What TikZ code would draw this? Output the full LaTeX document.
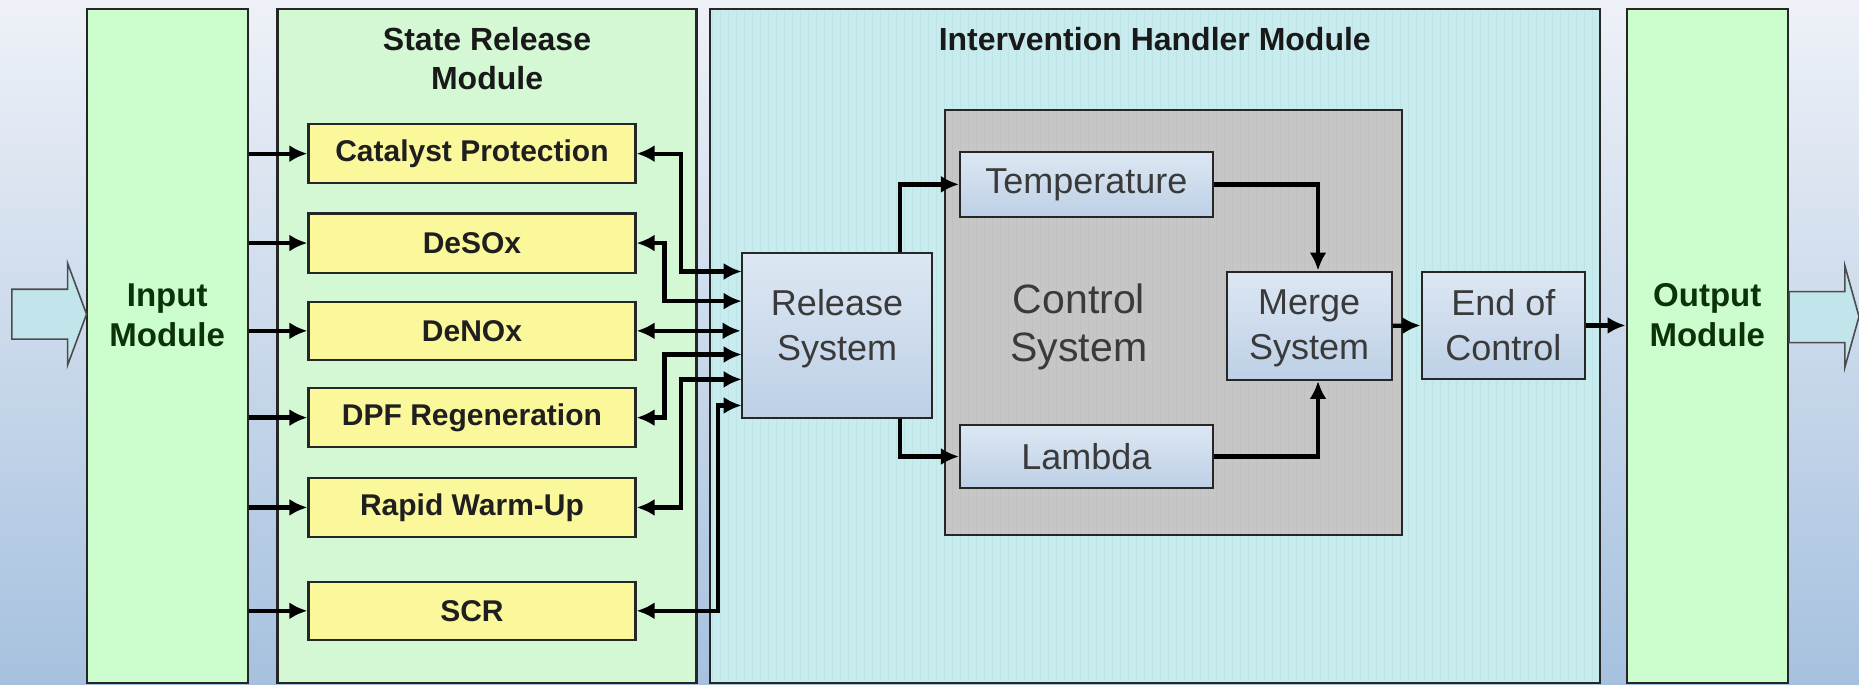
\documentclass[tikz,border=0pt]{standalone}
\usepackage{fontspec}
\setmainfont{Liberation Sans}
\usetikzlibrary{arrows.meta,fit,calc}
\definecolor{bgtop}{HTML}{EEF1F7}
\definecolor{bgbot}{HTML}{A6C1DF}
\definecolor{grn}{HTML}{CCFDCC}
\definecolor{grnpale}{HTML}{D3F8D3}
\definecolor{cyanbg}{HTML}{C8ECEE}
\definecolor{cyangrid}{HTML}{BFE4E7}
\definecolor{graybg}{HTML}{C6C6C6}
\definecolor{graygrid}{HTML}{C0C0C0}
\definecolor{ylw}{HTML}{FBF89C}
\definecolor{bluetop}{HTML}{DDE7F3}
\definecolor{bluebot}{HTML}{BDD0E6}
\definecolor{darkgrn}{HTML}{0B330B}
\definecolor{txtgray}{HTML}{3A3A3A}
\definecolor{bigarrow}{HTML}{C2E5EC}
\begin{document}
\begin{tikzpicture}[x=1.1856pt,y=-1.1856pt,
  modbox/.style={draw=black!85, line width=2.2pt, inner sep=0pt},
  modtext/.style={font=\bfseries\fontsize{33}{40}\selectfont, text=darkgrn, align=center},
  titletext/.style={font=\bfseries\fontsize{32}{39}\selectfont, text=black!90, align=center},
  ybox/.style={draw=black!85, line width=2.2pt, fill=ylw, inner sep=0pt},
  ytext/.style={font=\bfseries\fontsize{30}{36}\selectfont, text=black!88, inner sep=0pt},
  sysbox/.style={draw=black!85, line width=2pt, top color=bluetop, bottom color=bluebot, inner sep=0pt},
  systext/.style={font=\fontsize{36}{45}\selectfont, text=txtgray, align=center, inner sep=0pt},
  arr/.style={line width=4.3pt, -{Latex[length=18pt,width=17pt]}},
  bi/.style={line width=4.3pt, {Latex[length=18pt,width=17pt]}-{Latex[length=18pt,width=17pt]}},
  bigarr/.style={draw=black!70, line width=1.6pt, fill=bigarrow, line join=miter}
]
\useasboundingbox (0,0) rectangle (1568,577);
\shade[top color=bgtop, bottom color=bgbot] (0,0) rectangle (1568,577);

% module columns
\node[modbox, fill=grn, fit={(73.6,7.5)(209,576)}] (inp) {};
\node[modbox, fill=grnpale, fit={(234,7.5)(587.5,576)}] (srm) {};
\node[modbox, fill=cyanbg, fit={(599,7.5)(1349.5,576)}] (ihm) {};
\draw[cyangrid, line width=0.5pt, step=6.75] (600.5,9) grid (1348,575);
\draw[black!85, line width=2.2pt] (599,7.5) rectangle (1349.5,576);
\node[modbox, fill=grn, fit={(1372,7.5)(1508,576)}] (out) {};

\node[modtext] (inptxt) at (141,266) {Input\\Module};
\node[modtext] (outtxt) at (1440,266) {Output\\Module};
\node[titletext] (srmtitle) at (410.8,49.5) {State Release\\Module};
\node[titletext] (ihmtitle) at (974,33) {Intervention Handler Module};

% big arrows
\draw[bigarr] (10,244) -- (57,244) -- (57,222) -- (73,265) -- (57,308) -- (57,286) -- (10,286) -- cycle;
\draw[bigarr] (1509,246) -- (1556,246) -- (1556,224) -- (1568,267) -- (1556,310) -- (1556,289) -- (1509,289) -- cycle;

% control box
\node[modbox, fill=graybg, fit={(797,93)(1182.5,451.5)}] (ctrl) {};
\draw[graygrid, line width=0.45pt, step=6.75] (798.5,94.5) grid (1181,450);
\draw[black!85, line width=2.2pt] (797,93) rectangle (1182.5,451.5);
\node[font=\fontsize{41}{48}\selectfont, text=txtgray, align=center] (ctrltxt) at (910,276) {Control\\System};

% yellow boxes
\node[ybox, fit={(260.2,104.6)(536,154.6)}] (cat) {};
\node[ybox, fit={(260.2,180)(536,230)}] (desox) {};
\node[ybox, fit={(260.2,254.5)(536,303.6)}] (denox) {};
\node[ybox, fit={(260.2,327.5)(536,377)}] (dpf) {};
\node[ybox, fit={(260.2,403)(536,453)}] (rapid) {};
\node[ybox, fit={(260.2,490.6)(536,539.8)}] (scr) {};
\node[ytext] (cattxt) at (cat.center) {Catalyst Protection};
\node[ytext] (desoxtxt) at (desox.center) {DeSOx};
\node[ytext] (denoxtxt) at (denox.center) {DeNOx};
\node[ytext] (dpftxt) at (dpf.center) {DPF Regeneration};
\node[ytext] (rapidtxt) at (rapid.center) {Rapid Warm-Up};
\node[ytext] (scrtxt) at (scr.center) {SCR};

% system boxes
\node[sysbox, fit={(625.6,213.6)(786.4,352.6)}] (rel) {};
\node[sysbox, fit={(809.7,128)(1023,183)}] (temp) {};
\node[sysbox, fit={(809.7,358.5)(1023,411.6)}] (lam) {};
\node[sysbox, fit={(1034.6,229)(1173.8,320.5)}] (merge) {};
\node[sysbox, fit={(1199,229)(1337,320)}] (eoc) {};
\node[systext] (reltxt) at ($(rel.center)+(0,-6)$) {Release\\System};
\node[systext] (temptxt) at (temp.center) {Temperature};
\node[systext] (lamtxt) at (lam.center) {Lambda};
\node[systext] (mergetxt) at ($(merge.center)+(0,2)$) {Merge\\System};
\node[systext] (eoctxt) at (eoc.center) {End of\\Control};

% input arrows
\foreach \b in {cat,desox,denox,dpf,rapid,scr}
  \draw[arr] (inp.east |- \b.west) -- (\b.west);

% release inputs
\coordinate (r1) at (625.6,229);
\coordinate (r2) at (625.6,254);
\coordinate (r4) at (625.6,299);
\coordinate (r5) at (625.6,320);
\coordinate (r6) at (625.6,342);
\draw[bi] (cat.east) -- ++(37.6,0) |- (r1);
\draw[bi] (desox.east) -- ++(23.5,0) |- (r2);
\draw[bi] (denox.east) -- (rel.west |- denox.east);
\draw[bi] (dpf.east) -- ++(23.5,0) |- (r4);
\draw[bi] (rapid.east) -- ++(37.6,0) |- (r5);
\draw[bi] (scr.east) -- ++(68.5,0) |- (r6);

% control flow
\draw[arr] ($(rel.north)+(53,0)$) |- (temp.west);
\draw[arr] ($(rel.south)+(53,0)$) |- (lam.west);
\draw[arr] (temp.east) -| ($(merge.north)+(7.5,0)$);
\draw[arr] (lam.east) -| ($(merge.south)+(7.5,0)$);
\draw[arr] (merge.east) -- (eoc.west);
\draw[arr] (eoc.east) -- (out.west |- eoc.east);
\end{tikzpicture}
\end{document}
